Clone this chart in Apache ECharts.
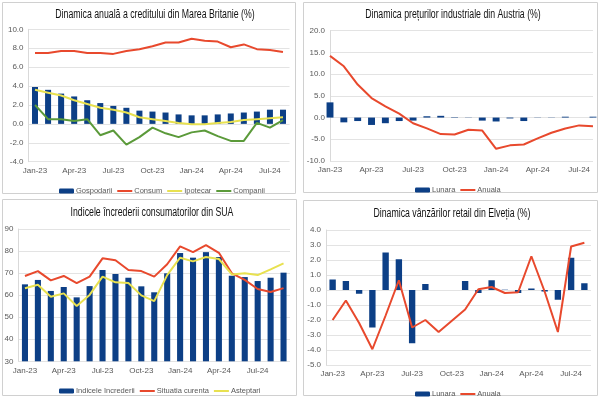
<!DOCTYPE html>
<html>
	<head>
		<meta charset="utf-8">
		<title></title>
		<script src='https://cdn.jsdelivr.net/npm/echarts@6.0.0/dist/echarts.min.js'></script>
		<style>
			body{ margin:0; background:#fff; }
			#chart{ width:600px; height:398px; }
		</style>
	</head>
	<body>
		<div id="chart"></div>
		<script>
			// luni
			const luni20 = ['Jan-23','Feb-23','Mar-23','Apr-23','May-23','Jun-23','Jul-23','Aug-23','Sep-23','Oct-23','Nov-23','Dec-23',
				'Jan-24','Feb-24','Mar-24','Apr-24','May-24','Jun-24','Jul-24','Aug-24'];
			const luni21 = luni20.concat(['Sep-24']);

			// Marea Britanie - creditare
			const gospodarii = [3.9,3.6,3.2,2.9,2.5,2.2,1.9,1.7,1.4,1.3,1.2,1.0,0.9,0.9,1.0,1.1,1.2,1.3,1.5,1.5];
			const consum = [7.5,7.5,7.7,7.7,7.5,7.5,7.4,7.7,7.9,8.2,8.6,8.6,9.0,8.8,8.7,8.1,8.4,7.9,7.8,7.6];
			const ipotecar = [3.6,3.3,3.0,2.5,2.1,1.7,1.5,1.2,0.7,0.5,0.3,0.1,-0.05,-0.05,0.1,0.2,0.4,0.5,0.6,0.7];
			const companii = [2.0,0.5,0.5,0.3,0.5,-1.2,-0.7,-2.2,-1.4,-0.4,-1.0,-1.4,-0.9,-0.7,-1.3,-1.8,-1.8,0.1,-0.4,0.4];

			// Austria - preturi industriale
			const atLunara = [3.5,-1.1,-0.8,-1.7,-1.3,-0.8,-0.7,0.3,0.4,-0.1,0.05,-0.7,-0.9,-0.2,-0.8,-0.05,0.05,0.2,0.0,0.2];
			const atAnuala = [14.2,11.8,7.6,4.5,2.6,0.9,-1.3,-2.5,-3.8,-3.9,-2.8,-3.0,-7.2,-6.4,-6.2,-4.8,-3.5,-2.5,-1.8,-2.0];

			// SUA - increderea consumatorilor
			const indice = [64.9,66.9,61.9,63.7,59.0,64.1,71.4,69.6,67.9,64.0,61.3,69.9,79.1,77.0,79.5,77.3,68.8,68.2,66.4,67.9,70.2];
			const curenta = [68.7,70.9,66.7,68.7,65.5,68.4,76.7,75.8,71.4,70.9,68.4,74.0,82.1,79.5,82.7,79.2,69.9,66.9,62.8,61.4,63.2];
			const asteptari = [63.1,64.7,59.3,60.8,55.1,60.1,68.4,65.8,65.5,59.9,57.3,69.1,77.0,75.3,77.3,76.4,69.4,69.9,69.1,71.7,74.4];

			// Elvetia - vanzari retail
			const chLunara = [0.7,0.6,-0.25,-2.5,2.5,2.05,-3.55,0.4,0,0,0.6,-0.2,0.65,0.02,-0.2,0.1,-0.1,-0.65,2.15,0.45];
			const chAnuala = [-2.0,-0.7,-2.2,-3.95,-1.7,0.65,-2.5,-2.0,-2.8,-2.05,-1.3,0.05,0.2,-0.2,-0.15,2.25,-0.1,-2.8,2.9,3.15];

			const albastru = '#0c3f86';
			const rosu = '#e8492d';
			const galben = '#e8e150';
			const verde = '#5b9a3a';
			const font = '"Liberation Sans", Arial, sans-serif';
			const gri = '#595959';
			// linie subtire in legenda (fara cerc)
			const iconLinie = 'path://M0,0h0.1v0.1h-0.1z M0,3H30V7H0Z M0,9.9h0.1v0.1h-0.1z';

			function axaX(idx, data, gap){
				return {
					type:'category', gridIndex:idx, data:data, boundaryGap:gap,
					axisLine:{show:false}, axisTick:{show:false},
					axisLabel:{interval:2, color:gri, fontSize:8, fontFamily:font, margin:5}
				};
			}
			function axaY(idx, min, max, step, dec){
				return {
					type:'value', gridIndex:idx, min:min, max:max, interval:step,
					axisLine:{show:true, lineStyle:{color:'#d9d9d9'}}, axisTick:{show:false},
					splitLine:{lineStyle:{color:'#e3e3e3'}},
					axisLabel:{color:gri, fontSize:8, fontFamily:font, margin:5,
						formatter: v => v.toFixed(dec)}
				};
			}
			// titlu ingust (font scalat pe orizontala)
			function titlu(text, x, y){
				return {type:'text', x:x, y:y, scaleX:0.7,
					style:{text:text, x:0, y:0, align:'center', verticalAlign:'middle',
						fontSize:12.5, fontFamily:font, fill:'#111'}};
			}
			function legenda(items, x, y){
				return {data:items, left:x, top:y, itemWidth:15, itemHeight:5, itemGap:5,
					textStyle:{color:gri, fontSize:7.5, fontFamily:font, padding:[0,0,0,-3]}};
			}
			function linie(name, data, idx, color){
				return {name:name, type:'line', data:data, xAxisIndex:idx, yAxisIndex:idx,
					symbol:'none', lineStyle:{width:2, color:color}, itemStyle:{color:color}, z:3};
			}
			function bare(name, data, idx, w){
				return {name:name, type:'bar', data:data, xAxisIndex:idx, yAxisIndex:idx,
					barWidth:w, itemStyle:{color:albastru}};
			}
			const L = name => ({name:name, icon:iconLinie});

			const chart = echarts.init(document.getElementById('chart'), null, {renderer:'canvas'});
			const option = {
				animation:false,
				graphic:[
					{type:'rect', shape:{x:2.5, y:2.5, width:293, height:191}, style:{fill:'none', stroke:'#d0d0d0'}},
					{type:'rect', shape:{x:303.5, y:2.5, width:294, height:190}, style:{fill:'none', stroke:'#d0d0d0'}},
					{type:'rect', shape:{x:2.5, y:199.5, width:294, height:196}, style:{fill:'none', stroke:'#d0d0d0'}},
					{type:'rect', shape:{x:303.5, y:200.5, width:294, height:195}, style:{fill:'none', stroke:'#d0d0d0'}},
					titlu('Dinamica anuală a creditului din Marea Britanie (%)', 155, 15),
					titlu('Dinamica prețurilor industriale din Austria (%)', 453, 15),
					titlu('Indicele încrederii consumatorilor din SUA', 152, 213),
					titlu('Dinamica vânzărilor retail din Elveția (%)', 452, 214)
				],
				legend:[
					legenda(['Gospodarii', L('Consum'), L('Ipotecar'), L('Companii')], 54, 182),
					legenda(['Lunara', L('Anuala')], 410, 181),
					legenda(['Indicele încrederii', L('Situatia curenta'), L('Asteptari')], 54, 382),
					legenda(['Lunara', L('Anuala')], 410, 385)
				],
				grid:[
					{left:28.5, top:29.3, width:261, height:132.4},
					{left:330, top:30.7, width:263, height:130.3},
					{left:18.5, top:229, width:271.5, height:132.3},
					{left:326, top:230, width:265, height:135}
				],
				xAxis:[
					axaX(0, luni20, true),
					axaX(1, luni20, false),
					axaX(2, luni21, true),
					axaX(3, luni20, true)
				],
				yAxis:[
					axaY(0, -4, 10, 2, 1),
					axaY(1, -10, 20, 5, 1),
					axaY(2, 30, 90, 10, 0),
					axaY(3, -5, 4, 1, 1)
				],
				series:[
					bare('Gospodarii', gospodarii, 0, '46%'),
					linie('Consum', consum, 0, rosu),
					linie('Ipotecar', ipotecar, 0, galben),
					linie('Companii', companii, 0, verde),

					bare('Lunara', atLunara, 1, '50%'),
					linie('Anuala', atAnuala, 1, rosu),

					bare('Indicele încrederii', indice, 2, '47%'),
					linie('Situatia curenta', curenta, 2, rosu),
					linie('Asteptari', asteptari, 2, galben),

					bare('Lunara', chLunara, 3, '48%'),
					linie('Anuala', chAnuala, 3, rosu)
				]
			};
			chart.setOption(option);
		</script>
	</body>
</html>
